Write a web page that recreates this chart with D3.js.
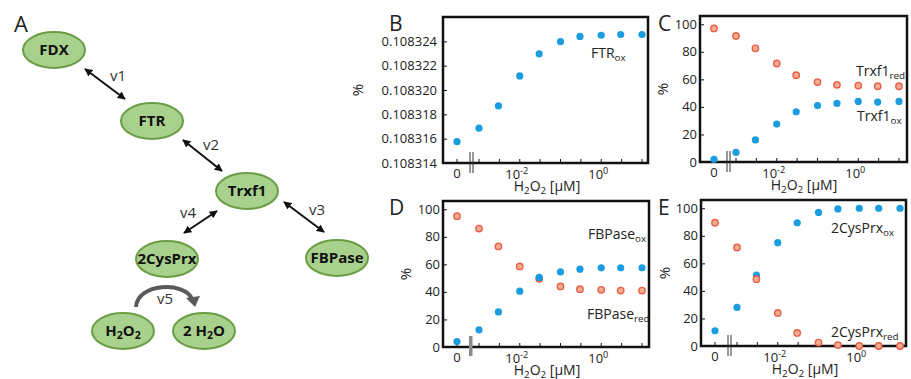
<!DOCTYPE html>
<html>
<head>
<meta charset="utf-8">
<script src="https://cdn.jsdelivr.net/npm/d3@7"></script>
<style>
  body { margin: 0; background: #fff; }
  text { font-family: "Open Sans", "Liberation Sans", sans-serif; fill: #222; }
</style>
</head>
<body>
<script>
// H2O2 concentrations (uM), first point is the "0" control
var conc = [0, 0.001, 0.003, 0.01, 0.03, 0.1, 0.3, 1, 3, 10];

var ftrOx = [0.10831575, 0.10831686, 0.10831869, 0.10832116, 0.10832297,
             0.10832398, 0.1083244, 0.1083245, 0.10832456, 0.10832456];
var trxRed = [97, 91.5, 82.5, 71.5, 63, 58, 56, 55.5, 55, 55];
var trxOx  = [2, 7, 16, 27.5, 36.5, 41, 42.5, 44, 43.5, 44];
var fbpRed = [95, 86, 73, 58.5, 49.5, 44, 42, 41.5, 41, 41];
var fbpOx  = [4, 12.5, 25.5, 40.5, 50.5, 54.5, 56.5, 57.5, 57.5, 57.5];
var prxOx  = [11, 28, 51.5, 75, 89.5, 97, 99.5, 100, 100, 100];
var prxRed = [89.5, 71.5, 48.5, 24, 9.5, 2.5, 0.7, 0, 0, 0];

var yTicksB = [0.108314, 0.108316, 0.108318, 0.10832, 0.108322, 0.108324];
var yTicksPct = [0, 20, 40, 60, 80, 100];
var xTickExp = [-3, -2.5, -2, -1.5, -1, -0.5, 0, 0.5, 1];
var xLabelExp = [-2, 0];

var blue = '#1a9de0', redFill = '#f7ab8e', redStroke = '#e8604a';

var svg = d3.select('body').append('svg')
  .attr('width', 911)
  .attr('height', 379);

// text with sub/superscript pieces: [[str, 'sub'|'sup'|null], ...]
function rich(t, parts, size) {
  var shift = 0;
  parts.forEach(function(p) {
    var dy = 0;
    if (p[1] === 'sub') dy = size * 0.22 - shift;
    else if (p[1] === 'sup') dy = -size * 0.4 - shift;
    else dy = -shift;
    t.append('tspan')
      .attr('dy', dy)
      .style('font-size', p[1] ? (size * 0.7) + 'px' : size + 'px')
      .text(p[0]);
    shift += dy;
  });
  return t;
}

// ---------------- panel A: pathway diagram ----------------
var A = svg.append('g');
A.append('text').attr('x', 14).attr('y', 32).style('font-size', '22px').text('A');

var defs = svg.append('defs');
['s', 'e'].forEach(function(k) {
  defs.append('marker')
    .attr('id', 'arr' + k)
    .attr('viewBox', '0 0 10 10')
    .attr('refX', k === 'e' ? 9 : 1).attr('refY', 5)
    .attr('markerWidth', 4).attr('markerHeight', 4)
    .attr('orient', 'auto')
    .append('path')
    .attr('d', k === 'e' ? 'M0,0L10,5L0,10z' : 'M10,0L0,5L10,10z')
    .attr('fill', '#111');
});

var nodes = [
  {id: 'FDX', x: 54, y: 50, label: [['FDX']]},
  {id: 'FTR', x: 152, y: 121, label: [['FTR']]},
  {id: 'Trxf1', x: 247, y: 191, label: [['Trxf1']]},
  {id: '2CysPrx', x: 167, y: 259, label: [['2CysPrx']]},
  {id: 'FBPase', x: 337, y: 258, label: [['FBPase']]},
  {id: 'H2O2', x: 123, y: 331, label: [['H'], ['2', 'sub'], ['O'], ['2', 'sub']]},
  {id: 'H2O', x: 204, y: 331, label: [['2 H'], ['2', 'sub'], ['O']]}
];

var links = [
  {x1: 85, y1: 69, x2: 125, y2: 99, name: 'v1', lx: 118, ly: 81},
  {x1: 183, y1: 140, x2: 222, y2: 171, name: 'v2', lx: 211, ly: 150},
  {x1: 284, y1: 202, x2: 324, y2: 232, name: 'v3', lx: 317, ly: 215},
  {x1: 217, y1: 211, x2: 184, y2: 233, name: 'v4', lx: 188, ly: 218}
];

A.selectAll('line.link').data(links).enter().append('line')
  .attr('class', 'link')
  .attr('x1', function(d) { return d.x1; })
  .attr('y1', function(d) { return d.y1; })
  .attr('x2', function(d) { return d.x2; })
  .attr('y2', function(d) { return d.y2; })
  .attr('stroke', '#111')
  .attr('stroke-width', 2)
  .attr('marker-start', 'url(#arrs)')
  .attr('marker-end', 'url(#arre)');

A.selectAll('text.vl').data(links).enter().append('text')
  .attr('class', 'vl')
  .attr('x', function(d) { return d.lx; })
  .attr('y', function(d) { return d.ly; })
  .attr('text-anchor', 'middle')
  .style('font-size', '15px')
  .style('fill', '#333')
  .text(function(d) { return d.name; });

var ng = A.selectAll('g.node').data(nodes).enter().append('g')
  .attr('class', 'node')
  .attr('transform', function(d) { return 'translate(' + d.x + ',' + d.y + ')'; });
ng.append('ellipse')
  .attr('rx', 31).attr('ry', 18)
  .attr('fill', '#a9d18e')
  .attr('stroke', '#6a9e44')
  .attr('stroke-width', 2);
ng.each(function(d) {
  var t = d3.select(this).append('text')
    .attr('text-anchor', 'middle')
    .attr('y', 5)
    .style('font-weight', 'bold')
    .style('fill', '#111');
  rich(t, d.label, 15);
});

// v5 curved arrow
A.append('path')
  .attr('d', 'M136,307 C137,283 185,281 192,299')
  .attr('fill', 'none')
  .attr('stroke', '#5a5a5a')
  .attr('stroke-width', 4);
A.append('path')
  .attr('d', 'M186,298 L200,296 L195,307 z')
  .attr('fill', '#5a5a5a');
A.append('text').attr('x', 165).attr('y', 304).attr('text-anchor', 'middle')
  .style('font-size', '15px').style('fill', '#333').text('v5');

// ---------------- panels B-E ----------------
var panels = [
  {tag: 'B', L: 443, T: 17, R: 648, Bt: 163, yDom: [0.108314, 0.108326], yTicks: yTicksB,
   fmt: d3.format('.6f'), lbx: 389, lby: 31, gap: 6, brk: 'double', pctX: 363,
   series: [{v: ftrOx, c: 'ox'}],
   notes: [{x: 591, y: 58, t: [['FTR'], ['ox', 'sub']]}]},
  {tag: 'C', L: 700, T: 16, R: 907, Bt: 162, yDom: [0, 106], yTicks: yTicksPct,
   fmt: d3.format('d'), lbx: 658, lby: 31, gap: 3, brk: 'double', pctX: 668,
   series: [{v: trxRed, c: 'red'}, {v: trxOx, c: 'ox'}],
   notes: [{x: 856, y: 76, t: [['Trxf1'], ['red', 'sub']]},
           {x: 857, y: 121, t: [['Trxf1'], ['ox', 'sub']]}]},
  {tag: 'D', L: 443, T: 201, R: 649, Bt: 347, yDom: [0, 106], yTicks: yTicksPct,
   fmt: d3.format('d'), lbx: 389, lby: 215, gap: 3, brk: 'bar', pctX: 411,
   series: [{v: fbpRed, c: 'red'}, {v: fbpOx, c: 'ox'}],
   notes: [{x: 588, y: 239, t: [['FBPase'], ['ox', 'sub']]},
           {x: 587, y: 319, t: [['FBPase'], ['red', 'sub']]}]},
  {tag: 'E', L: 701, T: 200, R: 906, Bt: 346, yDom: [0, 106], yTicks: yTicksPct,
   fmt: d3.format('d'), lbx: 658, lby: 215, gap: 3, brk: 'double', pctX: 670,
   series: [{v: prxOx, c: 'ox'}, {v: prxRed, c: 'red'}],
   notes: [{x: 831, y: 233, t: [['2CysPrx'], ['ox', 'sub']]},
           {x: 831, y: 337, t: [['2CysPrx'], ['red', 'sub']]}]}
];

panels.forEach(function(p) {
  var g = svg.append('g');
  var y = d3.scaleLinear().domain(p.yDom).range([p.Bt, p.T]);
  var xl = d3.scaleLog().domain([0.001, 10]).range([p.L + 36, p.L + 199]);
  var zeroX = p.L + 14;
  function x(v) { return v === 0 ? zeroX : xl(v); }

  g.append('text').attr('x', p.lbx).attr('y', p.lby).style('font-size', '21px').text(p.tag);

  // y axis ticks (inward) and labels
  var yAxis = d3.axisRight(y).tickValues(p.yTicks).tickSize(4).tickFormat('');
  g.append('g').attr('transform', 'translate(' + p.L + ',0)').call(yAxis)
    .call(function(s) { s.select('.domain').remove(); s.selectAll('line').attr('stroke', '#111'); });
  g.selectAll('text.yl').data(p.yTicks).enter().append('text')
    .attr('class', 'yl')
    .attr('x', p.L - p.gap)
    .attr('y', function(d) { return y(d) + 4.5; })
    .attr('text-anchor', 'end')
    .style('font-size', '13px')
    .text(p.fmt);

  // x axis ticks
  var xt = [0].concat(xTickExp.map(function(e) { return Math.pow(10, e); }));
  g.selectAll('line.xt').data(xt).enter().append('line')
    .attr('x1', x).attr('x2', x)
    .attr('y1', p.Bt).attr('y2', p.Bt - 4)
    .attr('stroke', '#111');
  var xlab = g.append('g').style('font-size', '13px');
  xlab.append('text').attr('x', zeroX).attr('y', p.Bt + 15).attr('text-anchor', 'middle').text('0');
  xLabelExp.forEach(function(e) {
    var t = xlab.append('text').attr('x', x(Math.pow(10, e)) - 3).attr('y', p.Bt + 16)
      .attr('text-anchor', 'middle');
    rich(t, [['10'], [String(e), 'sup']], 13);
  });

  // axis titles
  var xt2 = g.append('text').attr('x', p.L + 104).attr('y', p.Bt + 27.5).attr('text-anchor', 'middle');
  rich(xt2, [['H'], ['2', 'sub'], ['O'], ['2', 'sub'], [' [\u00b5M]']], 14);
  g.append('text')
    .attr('transform', 'translate(' + p.pctX + ',' + ((p.T + p.Bt) / 2) + ') rotate(-90)')
    .attr('text-anchor', 'middle')
    .style('font-size', '15px')
    .text('%');

  // frame
  g.append('rect')
    .attr('x', p.L).attr('y', p.T)
    .attr('width', p.R - p.L).attr('height', p.Bt - p.T)
    .attr('fill', 'none').attr('stroke', '#111').attr('stroke-width', 2.5);

  // axis break
  if (p.brk === 'double') {
    g.selectAll('line.brk').data([0, 3]).enter().append('line')
      .attr('x1', function(d) { return p.L + 27 + d; })
      .attr('x2', function(d) { return p.L + 27 + d; })
      .attr('y1', p.Bt - 11).attr('y2', p.Bt + 10)
      .attr('stroke', '#333').attr('stroke-width', 1);
  } else {
    g.append('rect').attr('x', p.L + 26).attr('y', p.Bt - 11)
      .attr('width', 3.5).attr('height', 20).attr('fill', '#8a8a8a');
  }

  // data points
  p.series.forEach(function(s) {
    g.selectAll(null).data(s.v).enter().append('circle')
      .attr('cx', function(d, i) { return x(conc[i]); })
      .attr('cy', function(d) { return y(d); })
      .attr('r', s.c === 'ox' ? 3.6 : 3.2)
      .attr('fill', s.c === 'ox' ? blue : redFill)
      .attr('stroke', s.c === 'ox' ? 'none' : redStroke)
      .attr('stroke-width', 1.4);
  });

  p.notes.forEach(function(n) {
    rich(g.append('text').attr('x', n.x).attr('y', n.y), n.t, 14);
  });
});
</script>
</body>
</html>
